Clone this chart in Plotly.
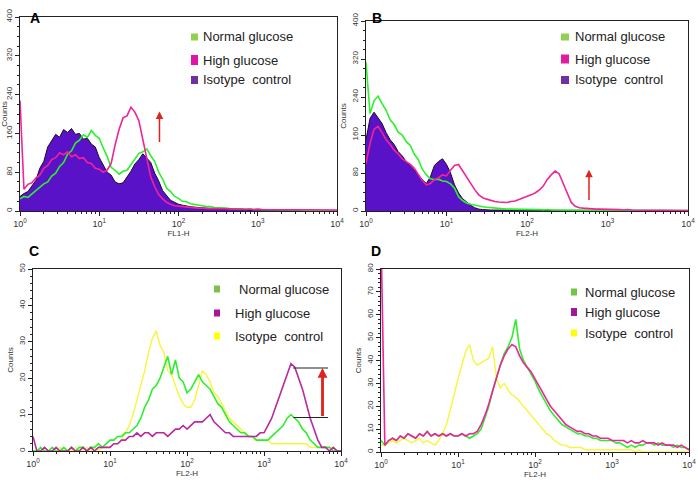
import plotly.graph_objects as go

# ---------------- data ----------------
# histogram channel grid: log10 positions 0.00 .. 4.00 in 0.05 steps
EXPONENTS = [i / 20 for i in range(81)]
CHANNELS = [10 ** e for e in EXPONENTS]

A_ISOTYPE = [30, 36, 40, 52, 63, 88, 102, 132, 145, 158,
             152, 168, 162, 170, 158, 160, 148, 150, 138, 132,
             110, 96, 80, 74, 60, 56, 58, 70, 82, 97,
             106, 118, 110, 100, 78, 62, 42, 31, 22, 18,
             14, 12, 10, 9, 8, 7, 6, 6, 5, 5,
             4, 4, 4, 3, 4, 3, 3, 3, 2, 3,
             2, 2, 3, 2, 2, 2, 2, 1, 2, 1,
             1, 1, 1, 1, 1, 1, 1, 1, 1, 1,
             0]
A_NORMAL = [25, 30, 28, 35, 40, 47, 56, 60, 72, 78,
            92, 100, 117, 124, 140, 146, 157, 152, 166, 156,
            150, 130, 112, 90, 84, 76, 82, 84, 96, 106,
            119, 122, 128, 114, 102, 80, 66, 47, 40, 30,
            26, 20, 19, 15, 14, 12, 11, 9, 9, 7,
            7, 6, 6, 5, 5, 5, 4, 4, 4, 3,
            3, 3, 3, 3, 2, 3, 2, 2, 2, 2,
            2, 2, 1, 2, 1, 1, 1, 1, 1, 1,
            1]
A_HIGH = [228, 45, 55, 58, 68, 74, 88, 94, 106, 110,
          120, 116, 122, 112, 116, 108, 110, 100, 98, 88,
          86, 80, 84, 98, 136, 168, 192, 196, 214, 204,
          186, 145, 104, 70, 50, 34, 25, 18, 14, 11,
          10, 9, 8, 7, 7, 6, 6, 5, 5, 5,
          5, 4, 5, 4, 4, 4, 4, 3, 4, 3,
          4, 3, 3, 3, 3, 3, 3, 3, 2, 3,
          3, 2, 3, 2, 3, 2, 2, 2, 2, 2,
          2]

B_ISOTYPE = [150, 195, 208, 196, 184, 165, 150, 140, 125, 116,
             104, 96, 85, 76, 66, 58, 72, 96, 104, 110,
             98, 80, 55, 38, 26, 18, 12, 7, 4, 3,
             2, 2, 2, 2, 1, 2, 1, 1, 1, 1,
             1, 1, 1, 1, 1, 1, 1, 1, 1, 1,
             1, 1, 1, 1, 1, 1, 1, 1, 1, 1,
             1, 1, 1, 1, 1, 1, 1, 0, 1, 0,
             0, 1, 0, 0, 1, 0, 0, 0, 0, 0,
             0]
B_NORMAL = [313, 205, 232, 242, 226, 212, 192, 182, 166, 160,
            146, 138, 120, 108, 88, 76, 68, 66, 67, 63,
            62, 57, 48, 30, 22, 17, 14, 12, 10, 9,
            8, 7, 6, 5, 5, 4, 4, 4, 3, 3,
            3, 3, 3, 3, 2, 3, 2, 2, 2, 2,
            2, 2, 2, 2, 2, 1, 2, 1, 2, 1,
            2, 1, 1, 1, 1, 1, 1, 1, 1, 1,
            1, 1, 1, 1, 1, 1, 1, 1, 1, 1,
            1]
B_HIGH = [100, 142, 172, 178, 165, 150, 140, 128, 120, 110,
          104, 98, 90, 78, 64, 55, 58, 66, 70, 76,
          74, 86, 96, 98, 84, 72, 56, 45, 34, 28,
          25, 22, 20, 19, 18, 18, 20, 21, 24, 27,
          30, 34, 38, 44, 52, 66, 76, 84, 78, 58,
          35, 18, 10, 7, 6, 5, 5, 4, 4, 4,
          3, 3, 3, 3, 2, 3, 2, 2, 2, 2,
          2, 2, 2, 1, 2, 1, 1, 1, 1, 1,
          1]

C_ISOTYPE = [0, 0, 0, 1, 0, 0, 0, 1, 0, 0,
             0, 1, 0, 0, 1, 0, 1, 0, 1, 1,
             1, 2, 2, 3, 5, 7, 10, 14, 18, 22,
             27, 31, 33, 29, 27, 22, 21, 18, 15, 13,
             12, 12, 14, 18, 22, 21, 19, 16, 15, 13,
             11, 9, 8, 7, 6, 5, 4, 4, 3, 3,
             3, 3, 2, 2, 2, 2, 2, 2, 2, 2,
             2, 2, 1, 1, 1, 1, 1, 1, 1, 0,
             0]
C_NORMAL = [0, 0, 1, 0, 0, 1, 0, 0, 1, 0,
            1, 0, 1, 1, 0, 1, 1, 2, 1, 2,
            3, 3, 4, 4, 5, 5, 6, 7, 9, 12,
            14, 17, 18, 20, 23, 26, 21, 25, 20, 19,
            16, 17, 19, 21, 19, 18, 17, 15, 13, 12,
            10, 8, 7, 6, 5, 5, 4, 4, 3, 3,
            3, 3, 4, 5, 6, 7, 9, 10, 9, 8,
            6, 5, 3, 2, 1, 1, 1, 1, 0, 0,
            0]
C_HIGH = [4, 0, 0, 1, 0, 0, 1, 0, 0, 0,
          1, 0, 0, 1, 0, 1, 0, 1, 1, 1,
          1, 2, 2, 3, 3, 4, 4, 5, 4, 5,
          5, 4, 5, 5, 5, 4, 5, 6, 6, 7,
          6, 7, 8, 8, 8, 9, 10, 8, 7, 6,
          5, 5, 4, 4, 4, 4, 4, 4, 4, 5,
          5, 7, 9, 12, 15, 18, 21, 24, 23, 20,
          17, 13, 9, 6, 3, 1, 1, 0, 1, 0,
          0]

D_ISOTYPE = [3, 3, 4, 5, 4, 5, 6, 5, 4, 5,
             6, 4, 5, 4, 3, 5, 8, 12, 18, 25,
             32, 38, 44, 47, 40, 38, 39, 40, 41, 46,
             32, 28, 30, 27, 25, 24, 22, 20, 18, 16,
             14, 12, 10, 8, 7, 5, 4, 3, 3, 2,
             2, 2, 2, 1, 1, 1, 1, 1, 1, 1,
             1, 1, 1, 1, 1, 1, 0, 1, 0, 0,
             0, 0, 0, 0, 0, 0, 0, 0, 0, 0,
             0]
D_NORMAL = [5, 3, 5, 6, 5, 7, 6, 8, 7, 6,
            8, 7, 9, 7, 8, 7, 8, 7, 8, 7,
            7, 8, 7, 6, 7, 8, 10, 15, 20, 27,
            33, 38, 43, 46, 50, 58, 45, 40, 37, 34,
            31, 27, 24, 21, 18, 16, 14, 12, 11, 10,
            9, 8, 8, 7, 7, 6, 6, 5, 5, 5,
            5, 4, 4, 3, 2, 3, 2, 3, 3, 4,
            4, 3, 4, 3, 3, 3, 2, 3, 2, 2,
            1]
D_HIGH = [95, 3, 5, 6, 5, 7, 6, 8, 7, 6,
          8, 7, 9, 7, 8, 7, 8, 7, 8, 7,
          7, 8, 7, 8, 8, 9, 12, 16, 21, 27,
          33, 38, 42, 45, 47, 46, 42, 39, 37, 35,
          32, 29, 26, 23, 20, 18, 16, 14, 12, 11,
          10, 9, 9, 8, 8, 7, 7, 6, 6, 6,
          5, 5, 5, 5, 4, 5, 4, 4, 5, 4,
          4, 4, 3, 4, 3, 3, 3, 2, 3, 2,
          1]

LEGEND_LABELS = ["Normal glucose", "High glucose", "Isotype\u00a0 control"]
X_TICK_VALUES = [1, 10, 100, 1000, 10000]
X_TICK_LABELS = ["10<sup>0</sup>", "10<sup>1</sup>", "10<sup>2</sup>",
                 "10<sup>3</sup>", "10<sup>4</sup>"]
X_TITLES = ["FL1-H", "FL2-H", "FL2-H", "FL2-H"]
Y_RANGES = [400, 400, 50, 80]
Y_DTICKS = [80, 80, 10, 10]
Y_MINOR = [20, 20, 2, 2]
PANEL_LETTERS = ["A", "B", "C", "D"]

# arrows: (log10 position, tail count, head count)
ARROW_A = (1.76, 139, 205)
ARROW_B = (2.77, 20, 87)
ARROW_C = (3.76, 9.2, 22.8)
BRACKET_C = (2400, 6800)  # horizontal marker lines in C span (FL2-H values)

# ---------------- styling ----------------
W, H = 698, 485
FONT = "Liberation Sans, Arial, sans-serif"
GREEN = "#2cf02c"
PINK = "#f0239a"
MAGENTA_C = "#b82a9e"
PURPLE_FILL = "#5a12c8"
YELLOW = "#f7f53c"


def px(x):
    return x / W


def py(y):
    return 1 - y / H


DOMAINS = [
    ((20, 337), (17, 211)),
    ((366, 688), (21, 211)),
    ((33, 341), (269, 451)),
    ((381, 689), (269, 452)),
]

MINOR_X = [k * 10 ** d for d in range(4) for k in range(2, 10)]

fig = go.Figure()

panels = [
    (A_NORMAL, A_HIGH, A_ISOTYPE, "filled"),
    (B_NORMAL, B_HIGH, B_ISOTYPE, "filled"),
    (C_NORMAL, C_HIGH, C_ISOTYPE, "yellow"),
    (D_NORMAL, D_HIGH, D_ISOTYPE, "yellow"),
]

for i, (normal, high, iso, kind) in enumerate(panels):
    n = "" if i == 0 else str(i + 1)
    xa, ya = "x" + n, "y" + n
    high_color = MAGENTA_C if i == 2 else PINK
    if kind == "filled":
        fig.add_trace(go.Scatter(x=CHANNELS, y=iso, xaxis=xa, yaxis=ya,
                                 mode="lines", fill="tozeroy",
                                 fillcolor=PURPLE_FILL,
                                 line=dict(color="#1a0a2a", width=1)))
    else:
        fig.add_trace(go.Scatter(x=CHANNELS, y=iso, xaxis=xa, yaxis=ya,
                                 mode="lines",
                                 line=dict(color=YELLOW, width=1.4)))
    fig.add_trace(go.Scatter(x=CHANNELS, y=normal, xaxis=xa, yaxis=ya,
                             mode="lines", line=dict(color=GREEN, width=1.6)))
    fig.add_trace(go.Scatter(x=CHANNELS, y=high, xaxis=xa, yaxis=ya,
                             mode="lines", line=dict(color=high_color, width=1.6)))

layout = dict(
    width=W, height=H, margin=dict(l=0, r=0, t=0, b=0),
    paper_bgcolor="white", plot_bgcolor="white", showlegend=False,
    font=dict(family=FONT, color="#333"),
)

for i, ((x0, x1), (y0, y1)) in enumerate(DOMAINS):
    n = "" if i == 0 else str(i + 1)
    layout["xaxis" + n] = dict(
        type="log", range=[0, 4], domain=[px(x0), px(x1)],
        anchor="y" + n, showgrid=False, zeroline=False, automargin=False,
        showline=True, linecolor="#222", linewidth=1, mirror=True,
        ticks="outside", ticklen=4, tickcolor="#222",
        tickmode="array", tickvals=X_TICK_VALUES, ticktext=X_TICK_LABELS,
        tickfont=dict(size=9, color="#333"),
        minor=dict(tickmode="array", tickvals=MINOR_X, ticks="outside",
                   ticklen=2, tickcolor="#222"),
        title=dict(text=X_TITLES[i], font=dict(size=8, color="#333"), standoff=2),
    )
    layout["yaxis" + n] = dict(
        range=[0, Y_RANGES[i]], domain=[py(y1), py(y0)],
        anchor="x" + n, showgrid=False, zeroline=False, automargin=False,
        showline=True, linecolor="#222", linewidth=1, mirror=True,
        ticks="outside", ticklen=4, tickcolor="#222",
        dtick=Y_DTICKS[i], tickangle=-90,
        tickfont=dict(size=8, color="#333"),
        minor=dict(dtick=Y_MINOR[i], ticks="outside", ticklen=2, tickcolor="#222"),
        title=dict(text="Counts", font=dict(size=8, color="#333"), standoff=2),
    )

fig.update_layout(**layout)

annotations = []
shapes = []

# panel letters
for (lx, ly), letter in zip([(28, 8), (377, 8), (27, 251), (376, 251)], PANEL_LETTERS):
    annotations.append(dict(text="<b>%s</b>" % letter, x=px(lx), y=py(ly),
                            xref="paper", yref="paper", showarrow=False,
                            font=dict(size=14, color="black", family=FONT)))

# legends: (square x, square w, text x per row, row y's, colors)
LEGENDS = [
    (191, 7, [201, 201, 201], [37, 60, 80], ["#92d050", "#e014a8", "#7030a0"], [7, 10, 8]),
    (561, 8, [573, 573, 573], [37, 59, 80], ["#92d050", "#e01ca0", "#7030a0"], [7, 9, 8]),
    (214, 6, [237, 233, 233], [289, 313, 336], ["#7cc24a", "#a8149c", "#ffff00"], [7, 7, 7]),
    (571, 6, [583, 583, 583], [292, 312, 333], ["#72c444", "#9c1a98", "#ffff00"], [7, 8, 7]),
]
for sx, sw, txs, rows, cols, shs in LEGENDS:
    for label, tx, ry, col, sh in zip(LEGEND_LABELS, txs, rows, cols, shs):
        shapes.append(dict(type="rect", xref="paper", yref="paper",
                           x0=px(sx), x1=px(sx + sw), y0=py(ry + sh / 2), y1=py(ry - sh / 2),
                           fillcolor=col, line=dict(width=0)))
        annotations.append(dict(text=label, x=px(tx), y=py(ry), xref="paper", yref="paper",
                                xanchor="left", yanchor="middle", showarrow=False,
                                font=dict(size=13, color="#222", family=FONT)))

# red arrows
for (ax_log, tail, head), axid, width in [(ARROW_A, "", 1.5), (ARROW_B, "2", 1.5), (ARROW_C, "3", 2.8)]:
    annotations.append(dict(x=ax_log, y=head, ax=ax_log, ay=tail,
                            xref="x" + axid, yref="y" + axid,
                            axref="x" + axid, ayref="y" + axid,
                            text="", showarrow=True, arrowhead=2,
                            arrowsize=1 if width < 2 else 0.7,
                            arrowwidth=width, arrowcolor="#e0221c"))

# bracket lines in panel C
for yv in (ARROW_C[1], ARROW_C[2]):
    shapes.append(dict(type="line", xref="x3", yref="y3",
                       x0=BRACKET_C[0], x1=BRACKET_C[1], y0=yv, y1=yv,
                       line=dict(color="#222", width=1.2)))

fig.update_layout(annotations=annotations, shapes=shapes)
fig.write_html("out.html", config={"displayModeBar": False},
               post_script="document.body.style.margin='0';document.body.style.padding='0';")
